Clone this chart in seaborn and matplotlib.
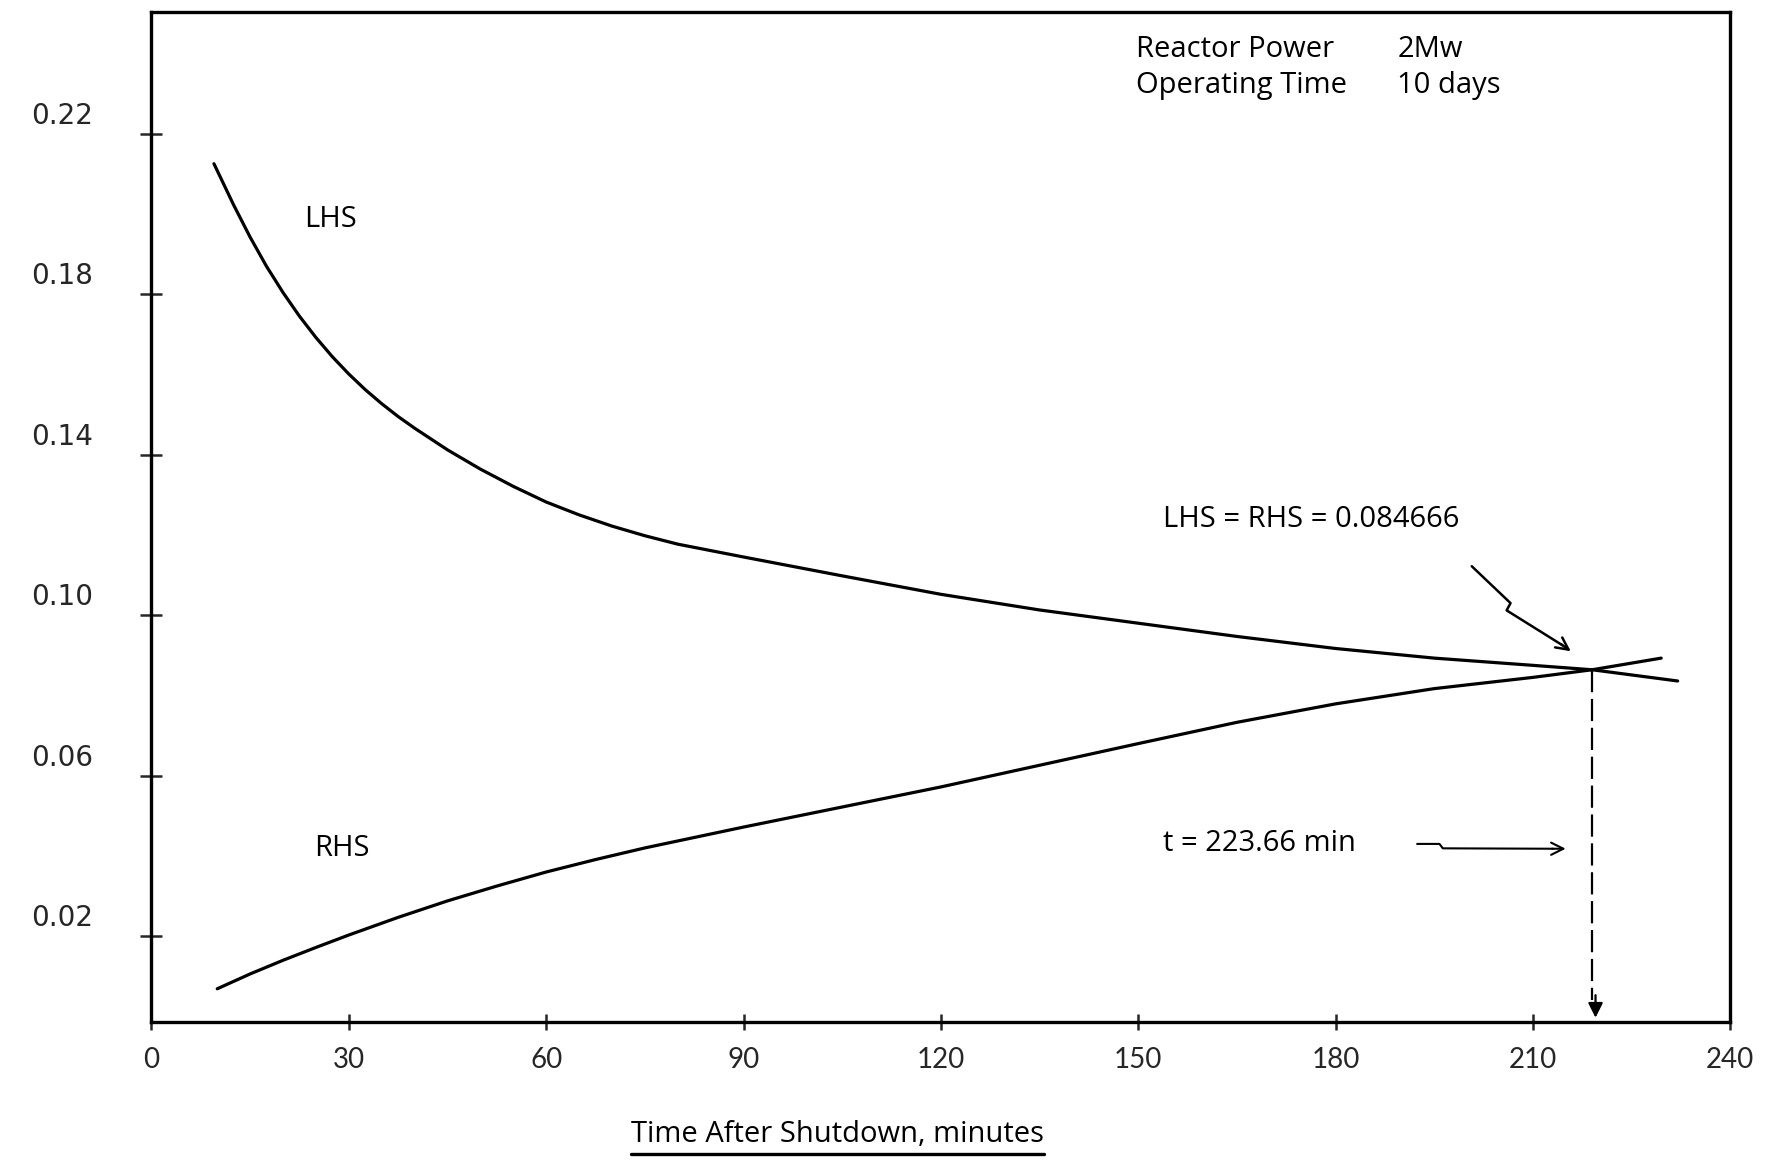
import numpy as np
import pandas as pd
import matplotlib.pyplot as plt
import seaborn as sns
from matplotlib.lines import Line2D
from matplotlib.transforms import ScaledTranslation

# values
lhs_minutes = [9.5, 12.5, 15, 17.5, 20, 22.5, 25, 27.5, 30, 32.5, 35, 37.5, 40, 45, 50, 55, 60, 65, 70,
               75, 80, 90, 105, 120, 135, 150, 165, 180, 195, 210, 219, 232]
lhs_values = [0.2125, 0.2022, 0.1942, 0.1869, 0.1804, 0.1745, 0.1692, 0.1644, 0.1601, 0.1562, 0.1527,
              0.1495, 0.1466, 0.1412, 0.1364, 0.1321, 0.1282, 0.1250, 0.1222, 0.1198, 0.1177, 0.1145,
              0.1098, 0.1052, 0.1013, 0.0980, 0.0947, 0.0917, 0.0893, 0.0875, 0.0864, 0.0836]

rhs_minutes = [10, 15, 20, 25, 30, 37.5, 45, 52.5, 60, 67.5, 75, 82.5, 90, 105, 120, 135, 150, 165,
               180, 195, 210, 219, 229.5]
rhs_values = [0.0069, 0.0106, 0.0140, 0.0172, 0.0203, 0.0247, 0.0288, 0.0325, 0.0360, 0.0391, 0.0420,
              0.0446, 0.0472, 0.0522, 0.0572, 0.0626, 0.0680, 0.0733, 0.0779, 0.0817, 0.0845, 0.0864,
              0.0893]

x_ticks = [0, 30, 60, 90, 120, 150, 180, 210, 240]
y_ticks = [0.02, 0.06, 0.10, 0.14, 0.18, 0.22]
y_tick_labels = ["0.02", "0.06", "0.10", "0.14", "0.18", "0.22"]

lhs = pd.DataFrame({"minutes": lhs_minutes, "value": lhs_values})
rhs = pd.DataFrame({"minutes": rhs_minutes, "value": rhs_values})

sns.set_style("ticks")
plt.rcParams["font.family"] = ["Lato", "DejaVu Sans"]

fig = plt.figure(figsize=(17.86, 11.63), dpi=100)
ax = fig.add_axes([0.0848, 0.1215, 0.884, 0.8685])

sns.lineplot(data=lhs, x="minutes", y="value", color="black", lw=2.3, ax=ax)
sns.lineplot(data=rhs, x="minutes", y="value", color="black", lw=2.3, ax=ax)

# crossing point of the two curves
grid = np.linspace(max(lhs_minutes[0], rhs_minutes[0]), min(lhs_minutes[-1], rhs_minutes[-1]), 4000)
diff = np.interp(grid, lhs_minutes, lhs_values) - np.interp(grid, rhs_minutes, rhs_values)
t_cross = grid[np.argmin(np.abs(diff))]
y_cross = np.interp(t_cross, lhs_minutes, lhs_values)

ax.plot([t_cross, t_cross], [y_cross, 0.004], color="black", lw=1.6, ls=(0, (10, 3)))
ax.annotate("", xy=(t_cross + 0.5, -0.001), xytext=(t_cross + 0.5, 0.006),
            arrowprops=dict(arrowstyle="-|>", color="black", lw=1.6, mutation_scale=22))

ax.set_xlim(0, 240)
ax.set_ylim(-0.0013, 0.2504)
ax.set_xticks(x_ticks)
ax.set_xticklabels([str(v) for v in x_ticks])
ax.set_yticks(y_ticks)
ax.set_yticklabels(y_tick_labels, family="DejaVu Sans")
ax.set_xlabel("")
ax.set_ylabel("")

for side in ["left", "right", "top", "bottom"]:
    ax.spines[side].set_linewidth(2.4)
    ax.spines[side].set_color("black")

ax.tick_params(axis="x", direction="inout", length=12, width=1.8, pad=12, labelsize=20)
ax.tick_params(axis="y", direction="inout", length=16, width=1.8, pad=34, labelsize=20)

# the typed labels sit a little above their tick marks
shift = ScaledTranslation(0, 0.21, fig.dpi_scale_trans)
for lbl in ax.get_yticklabels():
    lbl.set_transform(lbl.get_transform() + shift)

txt = dict(color="black", fontsize=21, va="center", family="Open Sans")
ax.text(149.7, 0.241, "Reactor Power", ha="left", **txt)
ax.text(189.4, 0.241, "2Mw", ha="left", **txt)
ax.text(149.7, 0.2319, "Operating Time", ha="left", **txt)
ax.text(189.4, 0.2319, "10 days", ha="left", **txt)

ax.text(27.2, 0.1987, "LHS", ha="center", **txt)
ax.text(28.9, 0.0418, "RHS", ha="center", **txt)

# hand-drawn arrows with a small jog in the shaft
ax.text(153.8, 0.1238, "LHS = RHS = 0.084666", ha="left", **txt)
ax.plot([200.7, 206.6, 206.0, 214.5], [0.1122, 0.1030, 0.1012, 0.0925], color="black", lw=1.8)
ax.annotate("", xy=(216.1, 0.0906), xytext=(214.0, 0.0931),
            arrowprops=dict(arrowstyle="->", color="black", lw=1.8, mutation_scale=22))

ax.text(153.8, 0.043, "t = 223.66 min", ha="left", **txt)
ax.plot([192.4, 195.8, 196.3, 213.0], [0.0430, 0.0430, 0.0419, 0.0418], color="black", lw=1.5)
ax.annotate("", xy=(215.4, 0.0418), xytext=(212.5, 0.0418),
            arrowprops=dict(arrowstyle="->", color="black", lw=1.5, mutation_scale=22))

xlab = fig.text(0.469, 1 - 1135 / 1163, "Time After Shutdown, minutes", ha="center", va="center",
                fontsize=21, color="black", family="Open Sans")

fig.canvas.draw()
bb = xlab.get_window_extent(fig.canvas.get_renderer()).transformed(fig.transFigure.inverted())
fig.add_artist(Line2D([bb.x0, bb.x1], [bb.y0 - 0.004, bb.y0 - 0.004], color="black", lw=2.4,
                      transform=fig.transFigure))

fig.savefig("out.png", dpi=100, facecolor="white")
